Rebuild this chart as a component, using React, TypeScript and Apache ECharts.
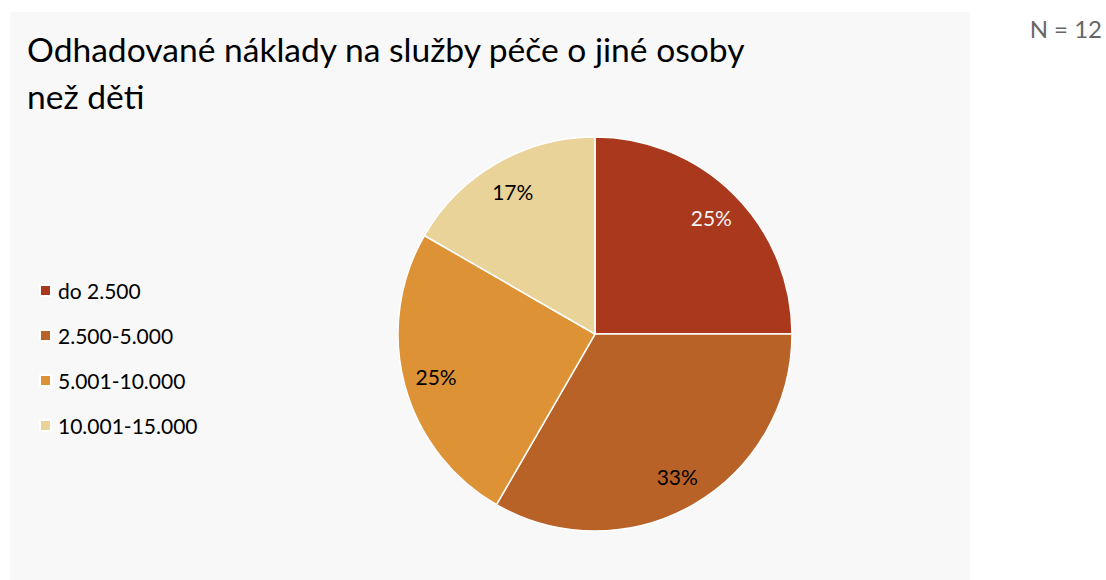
import React, { useEffect, useRef } from "react";
import * as echarts from "echarts";

const titleText = "Odhadované náklady na služby péče o jiné osoby\nnež děti";
const noteText = "N = 12";
const categories = ["do 2.500", "2.500-5.000", "5.001-10.000", "10.001-15.000"];
const counts = [3, 4, 3, 2];
const colors = ["#A9381C", "#B86227", "#DE9236", "#EAD399"];
const labelColors = ["#F2F2F2", "#000000", "#000000", "#000000"];

export default function App() {
  const ref = useRef<HTMLDivElement>(null);
  useEffect(() => {
    document.body.style.margin = "0";
    const chart = echarts.init(ref.current!, null, { renderer: "svg" });
    const data = categories.map((name, i) => ({
      name,
      value: counts[i],
      itemStyle: { color: colors[i] },
    }));
    const labelData = categories.map((name, i) => ({
      name,
      value: counts[i],
      label: { color: labelColors[i] },
    }));
    chart.setOption({
      animation: false,
      backgroundColor: "#ffffff",
      textStyle: { fontFamily: "Lato" },
      graphic: [
        {
          type: "rect",
          z: -10,
          silent: true,
          shape: { x: 10, y: 12, width: 960, height: 568 },
          style: { fill: "#F8F8F8" },
        },
        {
          type: "text",
          right: 4,
          top: 16,
          style: {
            text: noteText,
            font: "24px Lato",
            fill: "#666666",
          },
        },
      ],
      title: {
        text: titleText,
        left: 22,
        top: 20,
        textStyle: {
          fontFamily: "Lato",
          fontSize: 33.6,
          fontWeight: "normal",
          color: "#000000",
          lineHeight: 47,
        },
      },
      legend: {
        orient: "vertical",
        left: 34,
        top: 275,
        icon: "rect",
        itemWidth: 11,
        itemHeight: 11,
        itemGap: 24,
        data: categories,
        textStyle: {
          fontFamily: "Lato",
          fontSize: 21,
          lineHeight: 21,
          color: "#000000",
          padding: [0, 0, 0, 2],
        },
      },
      series: [
        {
          type: "pie",
          center: [595, 334],
          radius: 197,
          startAngle: 90,
          clockwise: true,
          label: { show: false },
          labelLine: { show: false },
          itemStyle: { borderColor: "#ffffff", borderWidth: 1.5 },
          emphasis: { disabled: true },
          data,
        },
        {
          type: "pie",
          center: [595, 334],
          radius: [126, 197],
          startAngle: 90,
          clockwise: true,
          silent: true,
          itemStyle: { color: "rgba(0,0,0,0)" },
          labelLine: { show: false },
          legendHoverLink: false,
          label: {
            show: true,
            position: "inside",
            fontFamily: "Lato",
            fontSize: 21,
            formatter: (p: any) => Math.round(p.percent) + "%",
          },
          emphasis: { disabled: true },
          data: labelData,
        },
      ],
    });
    return () => chart.dispose();
  }, []);
  return (
    <div
      ref={ref}
      style={{ position: "absolute", left: 0, top: 0, width: 1106, height: 580 }}
    />
  );
}
